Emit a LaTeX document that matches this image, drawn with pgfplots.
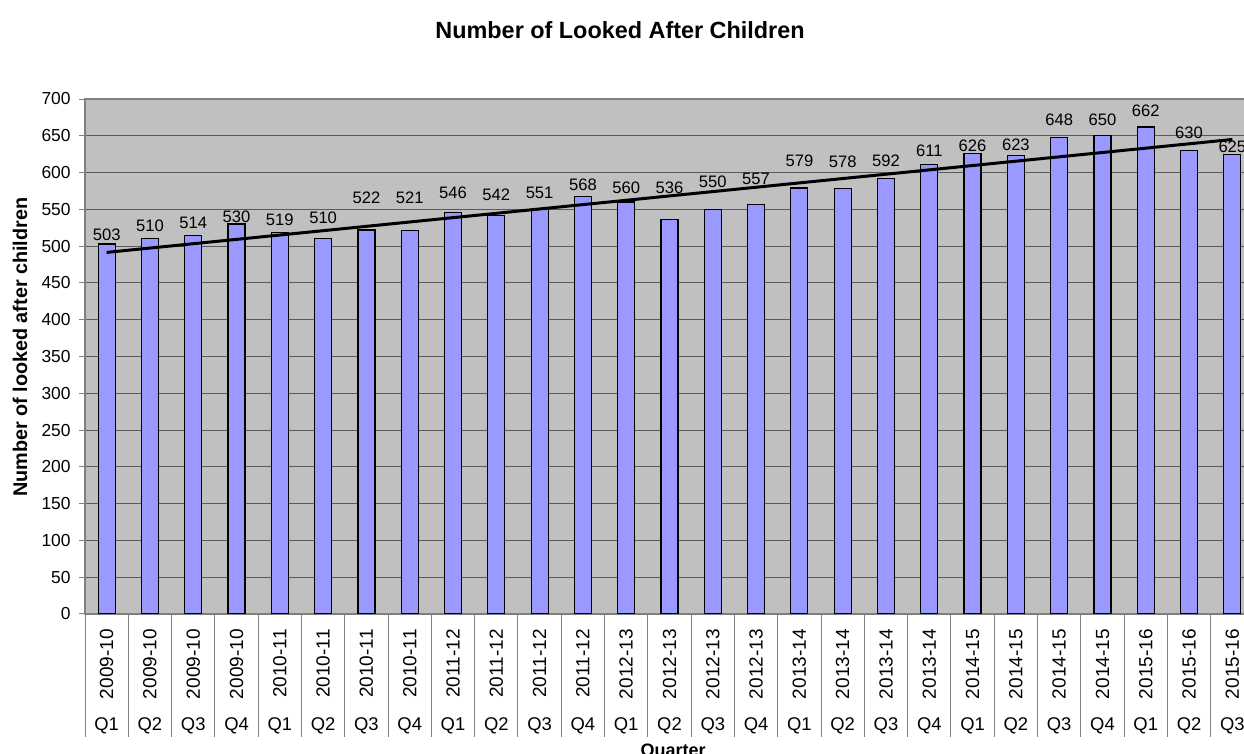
\documentclass[border=0pt]{standalone}
\usepackage{fontspec}
\setmainfont{Liberation Sans}
\usepackage{pgfplots}
\pgfplotsset{compat=1.18}
\definecolor{barblue}{HTML}{9999FF}
\definecolor{plotgray}{HTML}{C0C0C0}
\definecolor{gridc}{HTML}{5A5A5A}
\definecolor{linec}{HTML}{808080}

\pgfplotstableread{
x v
1 503
2 510
3 514
4 530
5 519
6 510
7 522
8 521
9 546
10 542
11 551
12 568
13 560
14 536
15 550
16 557
17 579
18 578
19 592
20 611
21 626
22 623
23 648
24 650
25 662
26 630
27 625
}\bars

\pgfplotstableread{
x ly v
1 515.2 503
2 527.4 510
3 531.5 514
4 539.6 530
5 535.5 519
6 538.3 510
7 565.4 522
8 565.4 521
9 572.3 546
10 569.5 542
11 572.3 551
12 583.1 568
13 579.0 560
14 579.0 536
15 587.2 550
16 591.3 557
17 615.7 579
18 614.4 578
19 615.7 592
20 629.3 611
21 636.1 626
22 637.5 623
23 671.5 648
24 671.5 650
25 683.7 662
26 653.8 630
27 634.8 625
}\labels

\begin{document}
\begin{tikzpicture}
% category band below the plot area: separators and quarter labels
\begin{axis}[
  at={(42.5pt,8.5pt)}, anchor=south west,
  scale only axis, width=584.5pt, height=61.5pt,
  xmin=0.5, xmax=27.5, ymin=0, ymax=1,
  xtick={1,...,27},
  xticklabels={Q1,Q2,Q3,Q4,Q1,Q2,Q3,Q4,Q1,Q2,Q3,Q4,Q1,Q2,Q3,Q4,Q1,Q2,Q3,Q4,Q1,Q2,Q3,Q4,Q1,Q2,Q3},
  xticklabel style={font=\fontsize{9.2}{11}\selectfont, anchor=base, inner sep=0pt, yshift=3pt},
  minor xtick={0.5,1.5,2.5,3.5,4.5,5.5,6.5,7.5,8.5,9.5,10.5,11.5,12.5,13.5,14.5,15.5,16.5,17.5,18.5,19.5,20.5,21.5,22.5,23.5,24.5,25.5,26.5,27.5},
  ytick=\empty,
  xminorgrids, minor grid style={draw=linec, line width=0.5pt},
  axis line style={draw=none}, major tick length=0pt, minor tick length=0pt,
  tick style={draw=none},
]
\end{axis}
% main chart
\begin{axis}[
  at={(42.5pt,70pt)}, anchor=south west,
  scale only axis, width=584.5pt, height=257.5pt,
  xmin=0.5, xmax=27.5, ymin=0, ymax=700,
  axis background/.style={fill=plotgray},
  axis line style={draw=linec, line width=0.6pt},
  ytick={0,50,...,700},
  ymajorgrids, grid style={draw=gridc, line width=0.5pt},
  tick align=outside, major tick length=3pt,
  y tick style={draw=linec, line width=0.5pt},
  x tick style={draw=none},
  xtick={1,...,27},
  /pgf/number format/assume math mode=true,
  yticklabel style={font=\fontsize{8.7}{10}\selectfont, inner sep=0pt, xshift=-4pt},
  xticklabel style={font=\fontsize{9.5}{11}\selectfont, inner sep=0pt, yshift=-4.5pt, rotate=90, anchor=east},
  xticklabels={2009-10,2009-10,2009-10,2009-10,2010-11,2010-11,2010-11,2010-11,2011-12,2011-12,2011-12,2011-12,2012-13,2012-13,2012-13,2012-13,2013-14,2013-14,2013-14,2013-14,2014-15,2014-15,2014-15,2014-15,2015-16,2015-16,2015-16},
  title={Number of Looked After Children},
  title style={font=\bfseries\fontsize{11.7}{13}\selectfont, at={(axis description cs:0.4577,1.111)}, anchor=center},
  ylabel={Number of looked after children},
  ylabel style={font=\bfseries\fontsize{9.9}{11}\selectfont, at={(axis description cs:-0.0556,0.518)}, anchor=center},
  xlabel={Quarter},
  xlabel style={font=\bfseries\fontsize{9}{11}\selectfont, at={(axis description cs:0.503,-0.268)}, anchor=center},
]
\addplot[ybar, bar width=8.5pt, fill=barblue, draw=black, line width=0.6pt] table[x=x, y=v] {\bars};
\addplot[black, line width=1.5pt, mark=none] coordinates {(1,491.5) (27,645)};
\addplot[draw=none, mark=none, nodes near coords, point meta=explicit,
  every node near coord/.append style={font=\fontsize{8.3}{10}\selectfont, anchor=center, inner sep=0pt,
  /pgf/number format/assume math mode=true}] table[x=x, y=ly, meta=v] {\labels};
\end{axis}
\pgfresetboundingbox
\useasboundingbox (0pt,0pt) rectangle (622pt,377pt);
\end{tikzpicture}
\end{document}
